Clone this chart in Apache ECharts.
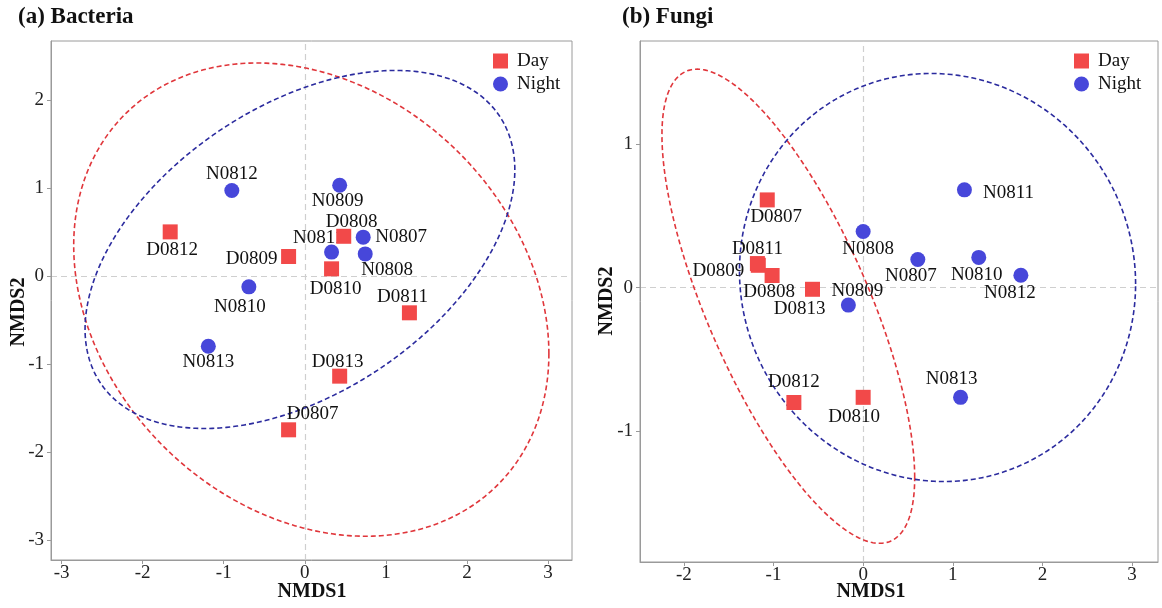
<!DOCTYPE html>
<html><head><meta charset="utf-8">
<script src="https://cdn.jsdelivr.net/npm/echarts@6/dist/echarts.min.js"></script>
<style>html,body{margin:0;padding:0;background:#fff}#c{width:1162px;height:608px}</style>
</head><body><div id="c"></div>
<script>
// ---------- DATA ----------
const bacDayNames = ['D0807','D0808','D0809','D0810','D0811','D0812','D0813'];
const bacDayX = [-0.20, 0.48, -0.20, 0.33, 1.29, -1.66, 0.43];
const bacDayY = [-1.75, 0.45, 0.22, 0.08, -0.42, 0.50, -1.14];
const bacNightNames = ['N0807','N0808','N0809','N0810','N0811','N0812','N0813'];
const bacNightX = [0.72, 0.745, 0.43, -0.69, 0.33, -0.90, -1.19];
const bacNightY = [0.44, 0.25, 1.03, -0.125, 0.27, 0.97, -0.80];

const funDayNames = ['D0807','D0808','D0809','D0810','D0811','D0812','D0813'];
const funDayX = [-1.07, -1.016, -1.17, 0.0, -1.18, -0.773, -0.565];
const funDayY = [0.61, 0.084, 0.155, -0.764, 0.167, -0.80, -0.012];
const funNightNames = ['N0807','N0808','N0809','N0810','N0811','N0812','N0813'];
const funNightX = [0.61, 0.0, -0.165, 1.29, 1.13, 1.76, 1.087];
const funNightY = [0.195, 0.39, -0.122, 0.21, 0.68, 0.086, -0.764];

// confidence ellipses: [centerX, centerY, halfWidthX, halfHeightY, crossTerm]
const bacDayEllipse = [0.08, -0.27, 2.93, 2.69, -1.8];
const bacNightEllipse = [-0.06, 0.30, 2.65, 2.035, 2.40];
const funDayEllipse = [-0.835, -0.13, 1.41, 1.65, -1.68];
const funNightEllipse = [0.83, 0.07, 2.21, 1.42, -0.10];

const bacXTicks = [-3, -2, -1, 0, 1, 2, 3];
const bacYTicks = [-3, -2, -1, 0, 1, 2];
const funXTicks = [-2, -1, 0, 1, 2, 3];
const funYTicks = [-1, 0, 1];

// ---------- LAYOUT (label offsets in px) ----------
const bacDayLab = [[24,-16],[8,-14],[-37,2],[4,20],[-7,-16],[2,18],[-2,-14]];
const bacNightLab = [[38,0],[22,16],[-2,16],[-9,20],[-13,-14],[0,-17],[0,16]];
const funDayLab = [[9,17],[-3,17],[-40,6],[-9,20],[0,-15],[0,-20],[-13,20]];
const funNightLab = [[-7,16],[5,17],[9,-14],[-2,18],[44,3],[-11,18],[-9,-18]];

const SERIF = '"Liberation Serif","Times New Roman",serif';
const RED = '#F24949', BLUE = '#4747DA';
const RED_L = '#E0363B', BLUE_L = '#2B2B9E';
const GRAY = '#9a9a9a';

function pts(names, xs, ys, labs) {
  return names.map((n, i) => ({ name: n, value: [xs[i], ys[i]], label: { offset: labs[i] } }));
}
function ellipseRender(p, color) {
  return function (params, api) {
    const [cx, cy, W, H, C] = p;
    const l21 = C / W, l22 = Math.sqrt(H * H - l21 * l21);
    const points = [];
    for (let i = 0; i <= 360; i++) {
      const t = i / 360 * 2 * Math.PI;
      points.push(api.coord([cx + W * Math.cos(t), cy + l21 * Math.cos(t) + l22 * Math.sin(t)]));
    }
    return { type: 'polyline', shape: { points }, style: { stroke: color, lineWidth: 1.6, lineDash: [5, 3], fill: null } };
  };
}
function ellipseSeries(p, color, gi) {
  return { type: 'custom', xAxisIndex: gi, yAxisIndex: gi, silent: true, z: 1, clip: false,
    data: [[p[0], p[1]]], encode: { x: 0, y: 1 }, renderItem: ellipseRender(p, color) };
}
const labelCommon = { show: true, formatter: '{b}', position: 'inside', align: 'center', verticalAlign: 'middle',
  color: '#111', fontFamily: SERIF, fontSize: 19 };
function scatter(name, data, gi, symbol, color, z, withZero) {
  const s = { type: 'scatter', name, xAxisIndex: gi, yAxisIndex: gi, symbol, symbolSize: 15, z,
    itemStyle: { color, opacity: 1 }, label: labelCommon, data, emphasis: { disabled: true }, silent: true };
  if (withZero) {
    s.markLine = { silent: true, symbol: 'none', label: { show: false }, z: 0,
      lineStyle: { color: '#cfcfcf', type: [6, 4], width: 1.2 },
      data: [{ xAxis: 0 }, { yAxis: 0 }] };
  }
  return s;
}
function xAxis(gi, min, max, ticks) {
  return { gridIndex: gi, type: 'value', min, max, splitLine: { show: false },
    axisLine: { show: true, onZero: false, lineStyle: { color: GRAY } },
    axisTick: { show: true, length: 4, lineStyle: { color: GRAY }, customValues: ticks },
    axisLabel: { customValues: ticks, margin: 4, fontFamily: SERIF, fontSize: 19, color: '#222' } };
}
function yAxis(gi, min, max, ticks) {
  return { gridIndex: gi, type: 'value', min, max, splitLine: { show: false },
    axisLine: { show: true, onZero: false, lineStyle: { color: GRAY } },
    axisTick: { show: true, length: 4, lineStyle: { color: GRAY }, customValues: ticks },
    axisLabel: { customValues: ticks, margin: 7, fontFamily: SERIF, fontSize: 19, color: '#222' } };
}
function legend(left) {
  return { left, top: 46, orient: 'vertical', itemWidth: 15, itemHeight: 15, itemGap: 3,
    selectedMode: false,
    textStyle: { fontFamily: SERIF, fontSize: 19, color: '#111', lineHeight: 20, padding: [0, 0, 0, 4] },
    data: [{ name: 'Day', icon: 'rect' }, { name: 'Night', icon: 'circle' }] };
}
function txt(x, y, text, size, bold, rot) {
  return { type: 'text', x, y, rotation: rot || 0, silent: true,
    style: { text, fontFamily: SERIF, fontSize: size, fontWeight: bold ? 'bold' : 'normal', fill: '#111',
      align: 'center', verticalAlign: 'middle' } };
}

const chart = echarts.init(document.getElementById('c'), null, { renderer: 'canvas' });
chart.setOption({
  animation: false,
  backgroundColor: '#fff',
  grid: [
    { left: 51, top: 41, width: 521, height: 519, show: true, borderColor: GRAY, borderWidth: 1, backgroundColor: 'transparent' },
    { left: 640, top: 41, width: 518, height: 521, show: true, borderColor: GRAY, borderWidth: 1, backgroundColor: 'transparent' }
  ],
  xAxis: [xAxis(0, -3.13, 3.295, bacXTicks), xAxis(1, -2.49, 3.29, funXTicks)],
  yAxis: [yAxis(0, -3.23, 2.67, bacYTicks), yAxis(1, -1.91, 1.716, funYTicks)],
  legend: [legend(488), legend(1069)],
  graphic: [
    { type: 'text', left: 18, top: 6, silent: true, style: { text: '(a) Bacteria', fontFamily: SERIF, fontSize: 23, fontWeight: 'bold', fill: '#111' } },
    { type: 'text', left: 622, top: 6, silent: true, style: { text: '(b) Fungi', fontFamily: SERIF, fontSize: 23, fontWeight: 'bold', fill: '#111' } },
    txt(312, 592, 'NMDS1', 20, true),
    txt(871, 592, 'NMDS1', 20, true),
    txt(19, 312, 'NMDS2', 20, true, Math.PI / 2),
    txt(607, 301, 'NMDS2', 20, true, Math.PI / 2)
  ],
  series: [
    ellipseSeries(bacDayEllipse, RED_L, 0),
    ellipseSeries(bacNightEllipse, BLUE_L, 0),
    scatter('Night', pts(bacNightNames, bacNightX, bacNightY, bacNightLab), 0, 'circle', BLUE, 2, true),
    scatter('Day', pts(bacDayNames, bacDayX, bacDayY, bacDayLab), 0, 'rect', RED, 3, false),
    ellipseSeries(funDayEllipse, RED_L, 1),
    ellipseSeries(funNightEllipse, BLUE_L, 1),
    scatter('Night', pts(funNightNames, funNightX, funNightY, funNightLab), 1, 'circle', BLUE, 2, true),
    scatter('Day', pts(funDayNames, funDayX, funDayY, funDayLab), 1, 'rect', RED, 3, false)
  ]
});
</script></body></html>
